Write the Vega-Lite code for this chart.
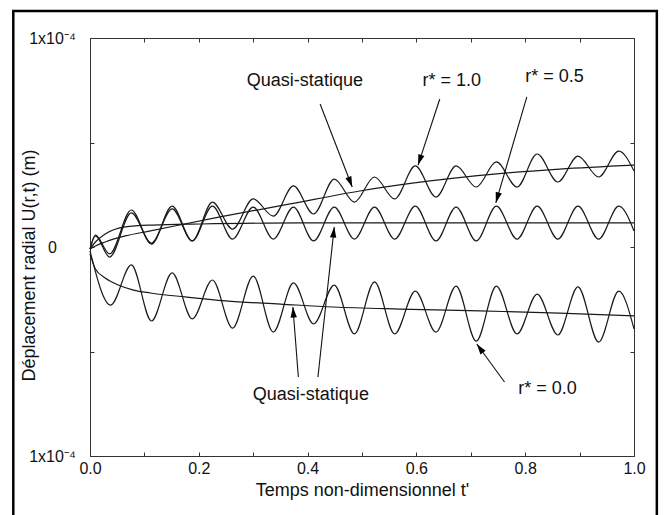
{
  "$schema": "https://vega.github.io/schema/vega-lite/v6.json",
  "width": 544,
  "height": 418,
  "autosize": "none",
  "padding": {"left": 90, "top": 38, "right": 31, "bottom": 59},
  "background": "white",
  "config": {
    "font": "Liberation Sans",
    "view": {"stroke": "#333", "strokeWidth": 1},
    "axis": {"grid": false, "domain": false, "tickColor": "#333", "tickSize": -4, "labelColor": "#111", "titleColor": "#111", "labelFont": "Liberation Sans", "titleFont": "Liberation Sans", "titleFontWeight": "normal", "labelOverlap": false}
  },
  "datasets": {
    "frame": [{"x1": -0.141, "x2": 1.042, "y1": 1.129e-4, "y2": -1.4e-4}],
    "curves": [
      {"series": "r1", "t": 0, "u": -0.1e-5}, {"series": "r1", "t": 0.010, "u": 0.57e-5}, {"series": "r1", "t": 0.036, "u": -0.33e-5}, {"series": "r1", "t": 0.076, "u": 1.77e-5}, {"series": "r1", "t": 0.113, "u": 0.14e-5}, {"series": "r1", "t": 0.151, "u": 1.96e-5}, {"series": "r1", "t": 0.188, "u": 0.29e-5}, {"series": "r1", "t": 0.225, "u": 2.15e-5}, {"series": "r1", "t": 0.262, "u": 0.86e-5}, {"series": "r1", "t": 0.300, "u": 2.30e-5}, {"series": "r1", "t": 0.337, "u": 1.48e-5}, {"series": "r1", "t": 0.374, "u": 2.92e-5}, {"series": "r1", "t": 0.411, "u": 1.58e-5}, {"series": "r1", "t": 0.449, "u": 3.25e-5}, {"series": "r1", "t": 0.486, "u": 2.15e-5}, {"series": "r1", "t": 0.523, "u": 3.35e-5}, {"series": "r1", "t": 0.560, "u": 2.30e-5}, {"series": "r1", "t": 0.598, "u": 3.88e-5}, {"series": "r1", "t": 0.636, "u": 2.39e-5}, {"series": "r1", "t": 0.673, "u": 3.88e-5}, {"series": "r1", "t": 0.710, "u": 2.87e-5}, {"series": "r1", "t": 0.747, "u": 4.07e-5}, {"series": "r1", "t": 0.785, "u": 2.87e-5}, {"series": "r1", "t": 0.822, "u": 4.45e-5}, {"series": "r1", "t": 0.860, "u": 3.11e-5}, {"series": "r1", "t": 0.897, "u": 4.35e-5}, {"series": "r1", "t": 0.935, "u": 3.35e-5}, {"series": "r1", "t": 0.972, "u": 4.59e-5}, {"series": "r1", "t": 1.0, "u": 3.64e-5},
      {"series": "r05", "t": 0, "u": -0.1e-5}, {"series": "r05", "t": 0.010, "u": 0.53e-5}, {"series": "r05", "t": 0.036, "u": -0.48e-5}, {"series": "r05", "t": 0.076, "u": 1.63e-5}, {"series": "r05", "t": 0.113, "u": 0.19e-5}, {"series": "r05", "t": 0.151, "u": 1.82e-5}, {"series": "r05", "t": 0.188, "u": 0.29e-5}, {"series": "r05", "t": 0.225, "u": 1.96e-5}, {"series": "r05", "t": 0.262, "u": 0.38e-5}, {"series": "r05", "t": 0.300, "u": 1.91e-5}, {"series": "r05", "t": 0.337, "u": 0.38e-5}, {"series": "r05", "t": 0.374, "u": 1.91e-5}, {"series": "r05", "t": 0.411, "u": 0.29e-5}, {"series": "r05", "t": 0.449, "u": 1.91e-5}, {"series": "r05", "t": 0.486, "u": 0.38e-5}, {"series": "r05", "t": 0.523, "u": 1.91e-5}, {"series": "r05", "t": 0.560, "u": 0.38e-5}, {"series": "r05", "t": 0.598, "u": 1.96e-5}, {"series": "r05", "t": 0.636, "u": 0.29e-5}, {"series": "r05", "t": 0.673, "u": 1.91e-5}, {"series": "r05", "t": 0.710, "u": 0.29e-5}, {"series": "r05", "t": 0.747, "u": 1.96e-5}, {"series": "r05", "t": 0.785, "u": 0.38e-5}, {"series": "r05", "t": 0.822, "u": 1.96e-5}, {"series": "r05", "t": 0.860, "u": 0.38e-5}, {"series": "r05", "t": 0.897, "u": 1.96e-5}, {"series": "r05", "t": 0.935, "u": 0.38e-5}, {"series": "r05", "t": 0.972, "u": 1.96e-5}, {"series": "r05", "t": 1.0, "u": 0.77e-5},
      {"series": "r0", "t": 0, "u": -0.19e-5}, {"series": "r0", "t": 0.038, "u": -2.78e-5}, {"series": "r0", "t": 0.076, "u": -0.86e-5}, {"series": "r0", "t": 0.113, "u": -3.54e-5}, {"series": "r0", "t": 0.151, "u": -1.24e-5}, {"series": "r0", "t": 0.188, "u": -3.44e-5}, {"series": "r0", "t": 0.225, "u": -1.58e-5}, {"series": "r0", "t": 0.262, "u": -3.88e-5}, {"series": "r0", "t": 0.300, "u": -1.39e-5}, {"series": "r0", "t": 0.337, "u": -4.07e-5}, {"series": "r0", "t": 0.374, "u": -1.72e-5}, {"series": "r0", "t": 0.411, "u": -3.68e-5}, {"series": "r0", "t": 0.449, "u": -1.82e-5}, {"series": "r0", "t": 0.486, "u": -4.16e-5}, {"series": "r0", "t": 0.523, "u": -1.67e-5}, {"series": "r0", "t": 0.560, "u": -4.16e-5}, {"series": "r0", "t": 0.598, "u": -2.11e-5}, {"series": "r0", "t": 0.636, "u": -4.07e-5}, {"series": "r0", "t": 0.673, "u": -1.87e-5}, {"series": "r0", "t": 0.710, "u": -4.50e-5}, {"series": "r0", "t": 0.747, "u": -1.87e-5}, {"series": "r0", "t": 0.785, "u": -4.16e-5}, {"series": "r0", "t": 0.822, "u": -2.25e-5}, {"series": "r0", "t": 0.860, "u": -4.21e-5}, {"series": "r0", "t": 0.897, "u": -1.91e-5}, {"series": "r0", "t": 0.935, "u": -4.55e-5}, {"series": "r0", "t": 0.972, "u": -2.11e-5}, {"series": "r0", "t": 1.0, "u": -3.92e-5},
      {"series": "qs1", "t": 0, "u": -0.1e-5}, {"series": "qs1", "t": 0.010, "u": 0.05e-5}, {"series": "qs1", "t": 0.028, "u": 0.24e-5}, {"series": "qs1", "t": 0.065, "u": 0.53e-5}, {"series": "qs1", "t": 0.111, "u": 0.77e-5}, {"series": "qs1", "t": 0.239, "u": 1.44e-5}, {"series": "qs1", "t": 0.368, "u": 2.06e-5}, {"series": "qs1", "t": 0.496, "u": 2.68e-5}, {"series": "qs1", "t": 0.625, "u": 3.16e-5}, {"series": "qs1", "t": 0.743, "u": 3.49e-5}, {"series": "qs1", "t": 0.863, "u": 3.73e-5}, {"series": "qs1", "t": 1.0, "u": 3.92e-5},
      {"series": "qs05", "t": 0, "u": -0.1e-5}, {"series": "qs05", "t": 0.010, "u": 0.24e-5}, {"series": "qs05", "t": 0.028, "u": 0.62e-5}, {"series": "qs05", "t": 0.065, "u": 0.96e-5}, {"series": "qs05", "t": 0.115, "u": 1.05e-5}, {"series": "qs05", "t": 0.203, "u": 1.10e-5}, {"series": "qs05", "t": 0.386, "u": 1.15e-5}, {"series": "qs05", "t": 1.0, "u": 1.15e-5},
      {"series": "qs0", "t": 0, "u": -0.33e-5}, {"series": "qs0", "t": 0.010, "u": -1.05e-5}, {"series": "qs0", "t": 0.028, "u": -1.48e-5}, {"series": "qs0", "t": 0.052, "u": -1.82e-5}, {"series": "qs0", "t": 0.080, "u": -2.06e-5}, {"series": "qs0", "t": 0.111, "u": -2.20e-5}, {"series": "qs0", "t": 0.175, "u": -2.39e-5}, {"series": "qs0", "t": 0.249, "u": -2.58e-5}, {"series": "qs0", "t": 0.350, "u": -2.73e-5}, {"series": "qs0", "t": 0.447, "u": -2.87e-5}, {"series": "qs0", "t": 0.570, "u": -2.97e-5}, {"series": "qs0", "t": 0.717, "u": -3.06e-5}, {"series": "qs0", "t": 0.863, "u": -3.16e-5}, {"series": "qs0", "t": 1.0, "u": -3.30e-5}
    ],
    "arrows": [
      {"t1": 0.423, "u1": 6.84e-5, "t2": 0.482, "u2": 2.87e-5},
      {"t1": 0.643, "u1": 7.08e-5, "t2": 0.603, "u2": 3.92e-5},
      {"t1": 0.803, "u1": 7.18e-5, "t2": 0.746, "u2": 2.11e-5},
      {"t1": 0.383, "u1": -6.22e-5, "t2": 0.373, "u2": -2.87e-5},
      {"t1": 0.419, "u1": -6.22e-5, "t2": 0.449, "u2": 0.96e-5},
      {"t1": 0.762, "u1": -6.46e-5, "t2": 0.711, "u2": -4.64e-5}
    ],
    "labels": [
      {"t": 0.395, "u": 7.94e-5, "text": "Quasi-statique"},
      {"t": 0.665, "u": 7.94e-5, "text": "r* = 1.0"},
      {"t": 0.854, "u": 8.13e-5, "text": "r* = 0.5"},
      {"t": 0.406, "u": -7.08e-5, "text": "Quasi-statique"},
      {"t": 0.841, "u": -6.79e-5, "text": "r*  = 0.0"}
    ]
  },
  "layer": [
    {
      "data": {"name": "frame"},
      "mark": {"type": "rect", "fill": null, "stroke": "#000", "strokeWidth": 2.5},
      "encoding": {
        "x": {"field": "x1", "type": "quantitative", "scale": {"domain": [0, 1], "nice": false, "zero": false},
              "axis": {"orient": "top", "title": null, "labels": false, "values": [0, 0.1, 0.2, 0.3, 0.4, 0.5, 0.6, 0.7, 0.8, 0.9, 1.0]}},
        "x2": {"field": "x2"},
        "y": {"field": "y1", "type": "quantitative", "scale": {"domain": [-1e-4, 1e-4], "nice": false, "zero": false},
              "axis": {"orient": "right", "title": null, "labels": false, "values": [-1e-4, -5e-5, 0, 5e-5, 1e-4]}},
        "y2": {"field": "y2"}
      }
    },
    {
      "data": {"name": "curves"},
      "mark": {"type": "line", "interpolate": "monotone", "color": "#1a1a1a", "strokeWidth": 1.2},
      "encoding": {
        "x": {"field": "t", "type": "quantitative", "scale": {"domain": [0, 1], "nice": false, "zero": false},
              "axis": {"orient": "bottom", "title": "Temps non-dimensionnel t'", "titleFontSize": 18, "titlePadding": 5,
                       "values": [0, 0.1, 0.2, 0.3, 0.4, 0.5, 0.6, 0.7, 0.8, 0.9, 1.0],
                       "labelExpr": "round(datum.value*10)%2==0 ? format(datum.value, '.1f') : ''",
                       "labelFontSize": 16, "labelPadding": 8, "labelFlush": false}},
        "y": {"field": "u", "type": "quantitative", "scale": {"domain": [-1e-4, 1e-4], "nice": false, "zero": false},
              "axis": {"orient": "left", "title": "Déplacement radial U(r,t) (m)", "titleFontSize": 18,
                       "titleX": -61, "titleY": 227, "titleBaseline": "middle", "titleAlign": "center", "titleAngle": 270,
                       "values": [-1e-4, -5e-5, 0, 5e-5, 1e-4],
                       "labelExpr": "datum.value == 0 ? '0' : (abs(datum.value) > 9e-5 ? '1x10⁻⁴' : '')",
                       "labelFontSize": 16, "labelAlign": "center", "labelBaseline": "middle", "labelPadding": 42, "labelFlush": false}},
        "detail": {"field": "series", "type": "nominal"}
      }
    },
    {
      "data": {"name": "arrows"},
      "mark": {"type": "rule", "color": "#111", "strokeWidth": 1.1},
      "encoding": {
        "x": {"field": "t1", "type": "quantitative", "axis": null},
        "y": {"field": "u1", "type": "quantitative", "axis": null},
        "x2": {"field": "t2"},
        "y2": {"field": "u2"}
      }
    },
    {
      "data": {"name": "arrows"},
      "transform": [{"calculate": "atan2((datum.t2 - datum.t1) * 544, (datum.u2 - datum.u1) / 2e-4 * 418) * 180 / PI", "as": "ang"}],
      "mark": {"type": "point", "shape": "M0,0L-0.3,1L0.3,1Z", "filled": true, "color": "#000", "opacity": 1, "size": 450},
      "encoding": {
        "x": {"field": "t2", "type": "quantitative", "axis": null},
        "y": {"field": "u2", "type": "quantitative", "axis": null},
        "angle": {"field": "ang", "type": "quantitative", "scale": null}
      }
    },
    {
      "data": {"name": "labels"},
      "mark": {"type": "text", "fontSize": 18, "font": "Liberation Sans", "color": "#111", "align": "center", "baseline": "middle"},
      "encoding": {
        "x": {"field": "t", "type": "quantitative", "axis": null},
        "y": {"field": "u", "type": "quantitative", "axis": null},
        "text": {"field": "text"}
      }
    }
  ]
}
